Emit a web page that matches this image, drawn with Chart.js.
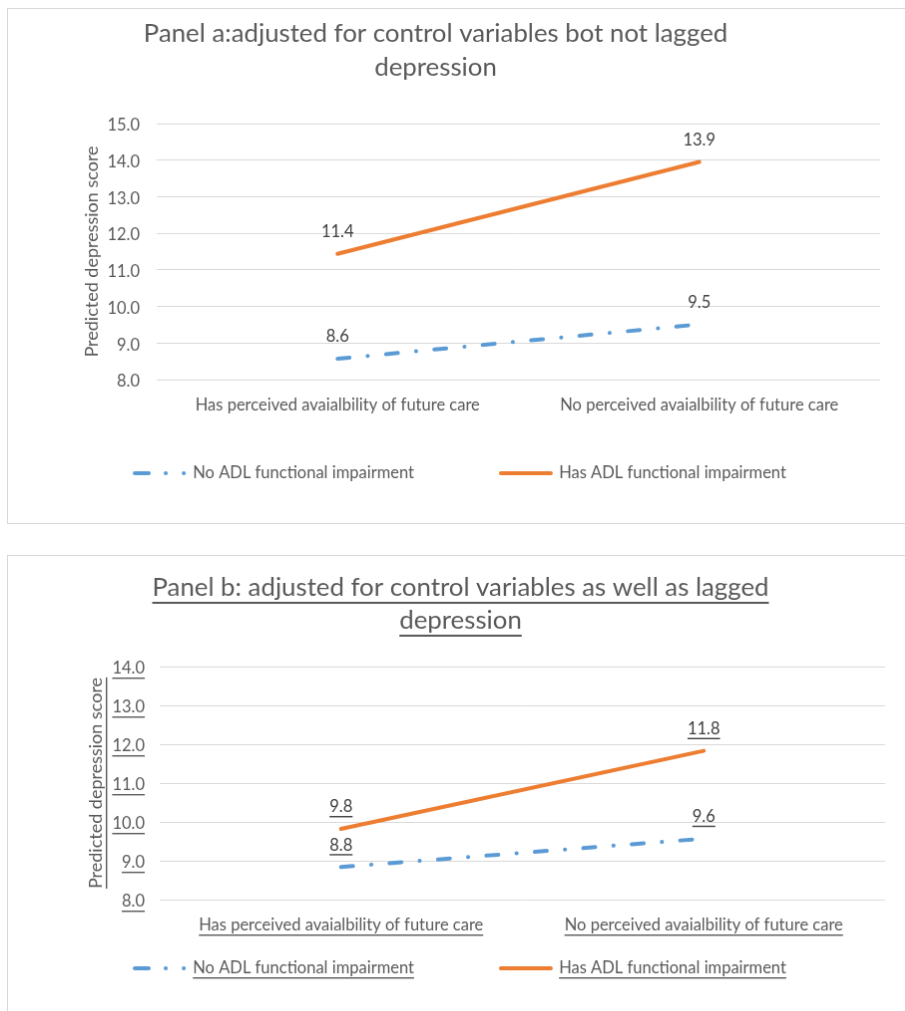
<!DOCTYPE html>
<html>
<head>
<meta charset="utf-8">
<script src="https://cdn.jsdelivr.net/npm/chart.js@4.4.1/dist/chart.umd.min.js"></script>
<style>
  html, body { margin: 0; padding: 0; background: #fff; overflow: hidden; }
  canvas { position: absolute; border: 1px solid #d9d9d9; }
  #panelA { left: 7px; top: 8px; }
  #panelB { left: 7px; top: 555px; }
</style>
</head>
<body>
<canvas id="panelA" width="930" height="516"></canvas>
<canvas id="panelB" width="930" height="480"></canvas>
<script>
// categorias y series
const categories = ['Has perceived avaialbility of future care', 'No perceived avaialbility of future care'];
const seriesNames = ['No ADL functional impairment', 'Has ADL functional impairment'];

// panel a
const titleA = ['Panel a:adjusted for control variables bot not lagged', 'depression'];
const noAdlA = [8.57, 9.51];
const hasAdlA = [11.44, 13.95];
const yTicksA = [8, 9, 10, 11, 12, 13, 14, 15];

// panel b
const titleB = ['Panel b: adjusted for control variables as well as lagged', 'depression'];
const noAdlB = [8.84, 9.57];
const hasAdlB = [9.82, 11.83];
const yTicksB = [8, 9, 10, 11, 12, 13, 14];

const yTitle = 'Predicted depression score';

const gray = '#595959';
const dark = '#404040';
const blue = '#5b9bd5';
const orange = '#ed7d31';
const family = 'Lato, "Open Sans", sans-serif';
const fs = 16.5;      // ticks, leyenda, etiquetas
const axisFs = 18;    // titulo eje y
const titleFs = 25.8; // titulo del panel
const yLabelShift = 2;

Chart.defaults.font.family = family;
Chart.defaults.font.size = fs;
Chart.defaults.color = gray;

const underline = (ctx, x1, x2, y, h) => {
    ctx.fillRect(x1, y, x2 - x1, h || 1.4);
};

// titulo del panel (centrado a mano)
const makeTitle = (lines, cx, ys, ul) => ({
    id: 'panelTitle',
    afterDraw(chart) {
        const ctx = chart.ctx;
        ctx.save();
        ctx.font = `${titleFs}px ${family}`;
        ctx.fillStyle = gray;
        ctx.textAlign = 'center';
        ctx.textBaseline = 'middle';
        lines.forEach((line, i) => {
            ctx.fillText(line, cx, ys[i]);
            if (ul) {
                const w = ctx.measureText(line).width;
                underline(ctx, cx - w / 2, cx + w / 2, ys[i] + 14, 2);
            }
        });
        ctx.restore();
    }
});

// etiquetas de valores sobre cada punto
const makeValueLabels = (offset, ul) => ({
    id: 'valueLabels',
    afterDatasetsDraw(chart) {
        const ctx = chart.ctx;
        ctx.save();
        ctx.font = `${fs}px ${family}`;
        ctx.fillStyle = dark;
        ctx.textAlign = 'center';
        ctx.textBaseline = 'middle';
        chart.data.datasets.forEach((ds, i) => {
            chart.getDatasetMeta(i).data.forEach((pt, j) => {
                const txt = ds.data[j].toFixed(1);
                const y = pt.y - offset;
                ctx.fillText(txt, pt.x, y);
                if (ul) {
                    const w = ctx.measureText(txt).width;
                    underline(ctx, pt.x - w / 2, pt.x + w / 2, y + 9);
                }
            });
        });
        ctx.restore();
    }
});

// subrayado de ejes y leyenda (solo panel b)
const makeUnderlineAll = (xCenter) => ({
    id: 'underlineAll',
    afterDraw(chart) {
        const ctx = chart.ctx;
        ctx.save();
        ctx.fillStyle = gray;
        ctx.font = `${fs}px ${family}`;

        const ys = chart.scales.y;
        const yPad = ys.options.ticks.padding;
        ys.ticks.forEach((t, i) => {
            const w = ctx.measureText(t.label).width;
            const right = ys.right - yPad;
            underline(ctx, right - w, right, ys.getPixelForTick(i) + yLabelShift + 9);
        });

        const xs = chart.scales.x;
        xs.ticks.forEach((t, i) => {
            const w = ctx.measureText(t.label).width;
            const cx = xs.getPixelForTick(i);
            underline(ctx, cx - w / 2, cx + w / 2, xs.top + xCenter + 9);
        });

        // leyenda
        const lg = chart.legend;
        const bw = lg.options.labels.pointStyleWidth;
        lg.legendHitBoxes.forEach((hb, i) => {
            const txt = lg.legendItems[i].text.trim();
            const w = ctx.measureText(txt).width;
            const x0 = hb.left + bw + fs / 2;
            underline(ctx, x0, x0 + w, hb.top + hb.height / 2 + 9);
        });

        // titulo del eje y, rotado
        ctx.font = `${axisFs}px ${family}`;
        const tp = ys.options.title.padding;
        const tx = ys.left + tp.top + axisFs * 0.6;
        const tw = ctx.measureText(yTitle).width;
        const tcy = (ys.top + ys.bottom) / 2;
        ctx.fillRect(tx + 10, tcy - tw / 2, 1.4, tw);
        ctx.restore();
    }
});

const makePanel = (id, opts) => {
    const ctx = document.getElementById(id).getContext('2d');
    const plugins = [makeTitle(opts.title, opts.titleX, opts.titleY, opts.ul), makeValueLabels(opts.labelOffset, opts.ul)];
    if (opts.ul) plugins.push(makeUnderlineAll(opts.xCenter));

    return new Chart(ctx, {
        type: 'line',
        data: {
            labels: categories,
            datasets: [{
                label: seriesNames[0] + '\u2002\u2002\u2002\u2002',
                data: opts.noAdl,
                borderColor: blue,
                backgroundColor: blue,
                borderWidth: 4,
                borderDash: [12, 18.3, 0.1, 18.3],
                borderCapStyle: 'round',
                pointRadius: 0,
                tension: 0
            }, {
                label: seriesNames[1],
                data: opts.hasAdl,
                borderColor: orange,
                backgroundColor: orange,
                borderWidth: 4,
                borderCapStyle: 'round',
                pointRadius: 0,
                tension: 0
            }]
        },
        options: {
            responsive: false,
            animation: false,
            layout: {
                padding: { left: 73, right: opts.right, top: opts.top, bottom: opts.bottom }
            },
            scales: {
                x: {
                    offset: true,
                    grid: { display: false, drawTicks: false },
                    border: { display: false },
                    // mirror evita el recorte de las etiquetas; el padding negativo las baja
                    ticks: { mirror: true, padding: -(opts.xCenter + fs * 0.6), maxRotation: 0 },
                    afterFit: (s) => { s.height = opts.xHeight; }
                },
                y: {
                    min: opts.yTicks[0],
                    max: opts.yTicks[opts.yTicks.length - 1],
                    afterBuildTicks: (s) => { s.ticks = opts.yTicks.map(v => ({ value: v })); },
                    grid: { color: '#d9d9d9', lineWidth: 1, drawTicks: false },
                    border: { display: false },
                    ticks: { padding: opts.yPad, labelOffset: yLabelShift, callback: (v) => Number(v).toFixed(1) },
                    title: {
                        display: true,
                        text: yTitle,
                        color: gray,
                        font: { size: axisFs },
                        padding: { top: opts.titlePad, bottom: 0 }
                    },
                    afterFit: (s) => { s.width = opts.yWidth; }
                }
            },
            plugins: {
                title: { display: false },
                tooltip: { enabled: false },
                legend: {
                    position: 'bottom',
                    align: 'start',
                    labels: {
                        usePointStyle: true,
                        pointStyle: 'line',
                        pointStyleWidth: 50,
                        padding: 54,
                        color: gray,
                        font: { size: fs },
                        generateLabels: (chart) => {
                            const items = Chart.defaults.plugins.legend.labels.generateLabels(chart);
                            items.forEach((it, i) => {
                                it.lineWidth = 4;
                                it.lineCap = 'round';
                                it.strokeStyle = i === 0 ? blue : orange;
                                it.lineDash = i === 0 ? [14, 17, 0.1, 18, 0.1, 40] : [];
                                it.pointStyle = 'line';
                            });
                            return items;
                        }
                    }
                }
            }
        },
        plugins: plugins
    });
};

makePanel('panelA', {
    noAdl: noAdlA, hasAdl: hasAdlA, yTicks: yTicksA, title: titleA,
    titleX: 428.5, titleY: [25, 59],
    right: 56, top: 115, bottom: 31.75,
    xHeight: 31.75, xCenter: 26, yWidth: 76, yPad: 17, titlePad: 0.2,
    labelOffset: 22, ul: false
});

makePanel('panelB', {
    noAdl: noAdlB, hasAdl: hasAdlB, yTicks: yTicksB, title: titleB,
    titleX: 453.5, titleY: [32, 65],
    right: 51, top: 111, bottom: 47.75,
    xHeight: 6.75, xCenter: 26, yWidth: 79, yPad: 15, titlePad: 4.2,
    labelOffset: 22, ul: true
});
</script>
</body>
</html>
